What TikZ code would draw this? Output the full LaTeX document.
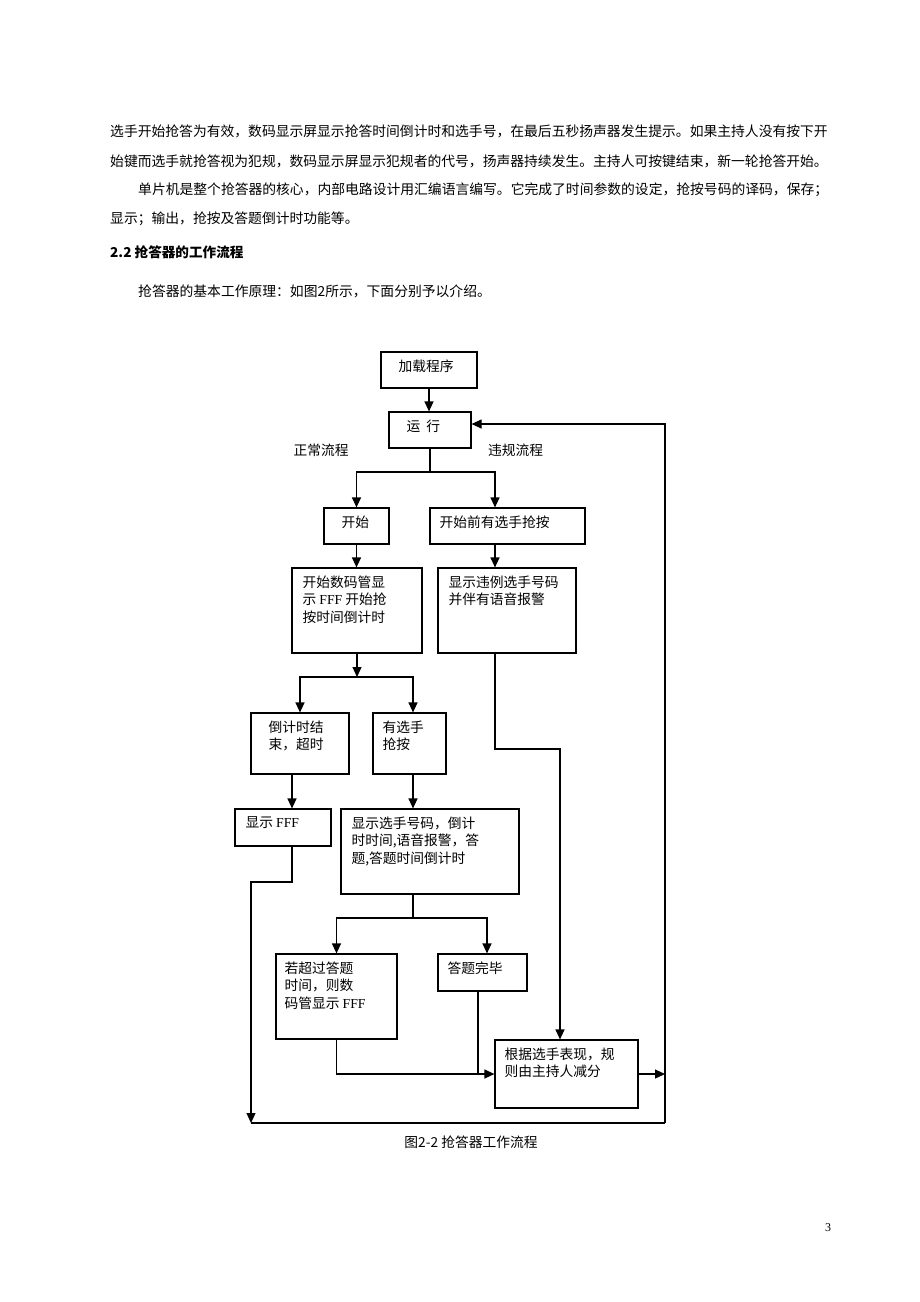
\documentclass[tikz,border=0pt]{standalone}
\usepackage{fontspec}
\usetikzlibrary{arrows.meta}
\setmainfont{Noto Sans CJK SC}
\newfontfamily\lat{Liberation Serif}
\newcommand\chart{\fontsize{13.75pt}{17.7pt}\selectfont}
\newcommand\body{\fontsize{13.8pt}{17pt}\selectfont}

\begin{document}
\begin{tikzpicture}[x=1pt, y=-1pt,
  box/.style={draw, line width=1.2pt, inner sep=0pt},
  txt/.style={anchor=north west, inner sep=0pt, align=left, font=\chart, xshift=#1, yshift=-8pt},
  txt/.default=10pt,
  arr/.style={-{Triangle[length=10pt,width=9pt]}, line width=1.2pt},
  line/.style={line width=1.2pt},
  para/.style={anchor=west, inner sep=0pt, font=\body}]
\useasboundingbox (0,0) rectangle (920,1302);
\fill[white] (0,0) rectangle (920,1302);

% Text above the chart
\node[para] (p1) at (110,131) {选手开始抢答为有效，数码显示屏显示抢答时间倒计时和选手号，在最后五秒扬声器发生提示。如果主持人没有按下开};
\node[para] (p2) at (110,161) {始键而选手就抢答视为犯规，数码显示屏显示犯规者的代号，扬声器持续发生。主持人可按键结束，新一轮抢答开始。};
\node[para] (p3) at (138,190) {单片机是整个抢答器的核心，内部电路设计用汇编语言编写。它完成了时间参数的设定，抢按号码的译码，保存；};
\node[para] (p4) at (110,219) {显示；输出，抢按及答题倒计时功能等。};
\node[para, font=\fontsize{13.6pt}{16pt}\selectfont\bfseries] (head) at (110,252) {2.2 抢答器的工作流程};
\node[para] (p5) at (138,291) {抢答器的基本工作原理：如图2所示，下面分别予以介绍。};

% Boxes
\node[box, minimum width=96pt, minimum height=36pt, label={[txt=18pt]north west:加载程序}] (load) at (429,370) {};
\node[box, minimum width=82pt, minimum height=36pt, label={[txt=18pt]north west:运\hspace{6pt}行}] (run) at (430,430) {};
\node[box, minimum width=65pt, minimum height=36pt, label={[txt=18pt]north west:开始}] (start) at (356.5,526) {};
\node[box, minimum width=155pt, minimum height=36pt, label={[txt]north west:开始前有选手抢按}] (pre) at (507.5,526) {};
\node[box, minimum width=130pt, minimum height=85pt, label={[txt=11pt]north west:开始数码管显\\示 {\lat FFF} 开始抢\\按时间倒计时}] (count) at (357,610.5) {};
\node[box, minimum width=138pt, minimum height=85pt, label={[txt=11pt]north west:显示违例选手号码\\并伴有语音报警}] (viol) at (507,610.5) {};
\node[box, minimum width=98pt, minimum height=61pt, label={[txt=18pt]north west:倒计时结\\束，超时}] (tout) at (300,743.5) {};
\node[box, minimum width=73pt, minimum height=61pt, label={[txt]north west:有选手\\抢按}] (grab) at (409.5,743.5) {};
\node[box, minimum width=96pt, minimum height=37pt, label={[txt=11pt]north west:显示 {\lat FFF}}] (fff) at (283,827.5) {};
\node[box, minimum width=178pt, minimum height=85pt, label={[txt=11pt]north west:显示选手号码，倒计\\时时间,语音报警，答\\题,答题时间倒计时}] (answ) at (430,851.5) {};
\node[box, minimum width=121pt, minimum height=85pt, label={[txt=9pt]north west:若超过答题\\时间，则数\\码管显示 {\lat FFF}}] (over) at (336.5,996.5) {};
\node[box, minimum width=89pt, minimum height=37pt, label={[txt]north west:答题完毕}] (done) at (482.5,972.5) {};
\node[box, minimum width=143pt, minimum height=68pt, label={[txt]north west:根据选手表现，规\\则由主持人减分}] (judge) at (566.5,1074) {};

% Labels
\node[font=\chart] (normal) at (321,450) {正常流程};
\node[font=\chart] (illegal) at (515.5,450) {违规流程};
\node[font=\chart] (cap) at (471,1142) {图2-2 抢答器工作流程};
\node[font=\lat\fontsize{12pt}{14pt}\selectfont] (page) at (828,1228) {3};

% Connectors
\coordinate (s1) at (430,472);
\coordinate (s2) at (357,677);
\coordinate (s3) at (413,918);
\coordinate (v1) at (560,749);
\coordinate (bl) at (251,1123);
\coordinate (br) at (665,1123);

\draw[arr] (load.south) -- (load.south |- run.north);
\draw[line] (run.south) -- (s1);
\draw[arr] (s1) -| (start.north);
\draw[arr] (s1) -| ([xshift=-12.5pt]pre.north);
\draw[arr] (start.south) -- (start.south |- count.north);
\draw[arr] ([xshift=-12.5pt]pre.south) -- ([xshift=-12.5pt]pre.south |- viol.north);

\draw[arr] (count.south) -- (s2);
\draw[arr] (s2) -| (tout.north);
\draw[arr] (s2) -| ([xshift=3.5pt]grab.north);
\draw[arr] ([xshift=-8pt]tout.south) -- ([xshift=-8pt]tout.south |- fff.north);
\draw[arr] ([xshift=3.5pt]grab.south) -- ([xshift=3.5pt]grab.south |- answ.north);

\draw[line] ([xshift=-17pt]answ.south) -- (s3);
\draw[arr] (s3) -| (over.north);
\draw[arr] (s3) -| ([xshift=4.5pt]done.north);
\draw[arr] (over.south) |- (judge.west);
\draw[line] ([xshift=-4.5pt]done.south) -- ([xshift=-4.5pt]done.south |- judge.west);

\draw[arr] ([xshift=-12pt]viol.south) |- (v1) -- (v1 |- judge.north);
\draw[arr] ([xshift=9pt]fff.south) |- (251,882) -- (bl);
\draw[line] (bl) -- (br);
\draw[arr] (br) |- ([yshift=6pt]run.east);
\draw[arr] (judge.east) -- (judge.east -| br);
\end{tikzpicture}
\end{document}
